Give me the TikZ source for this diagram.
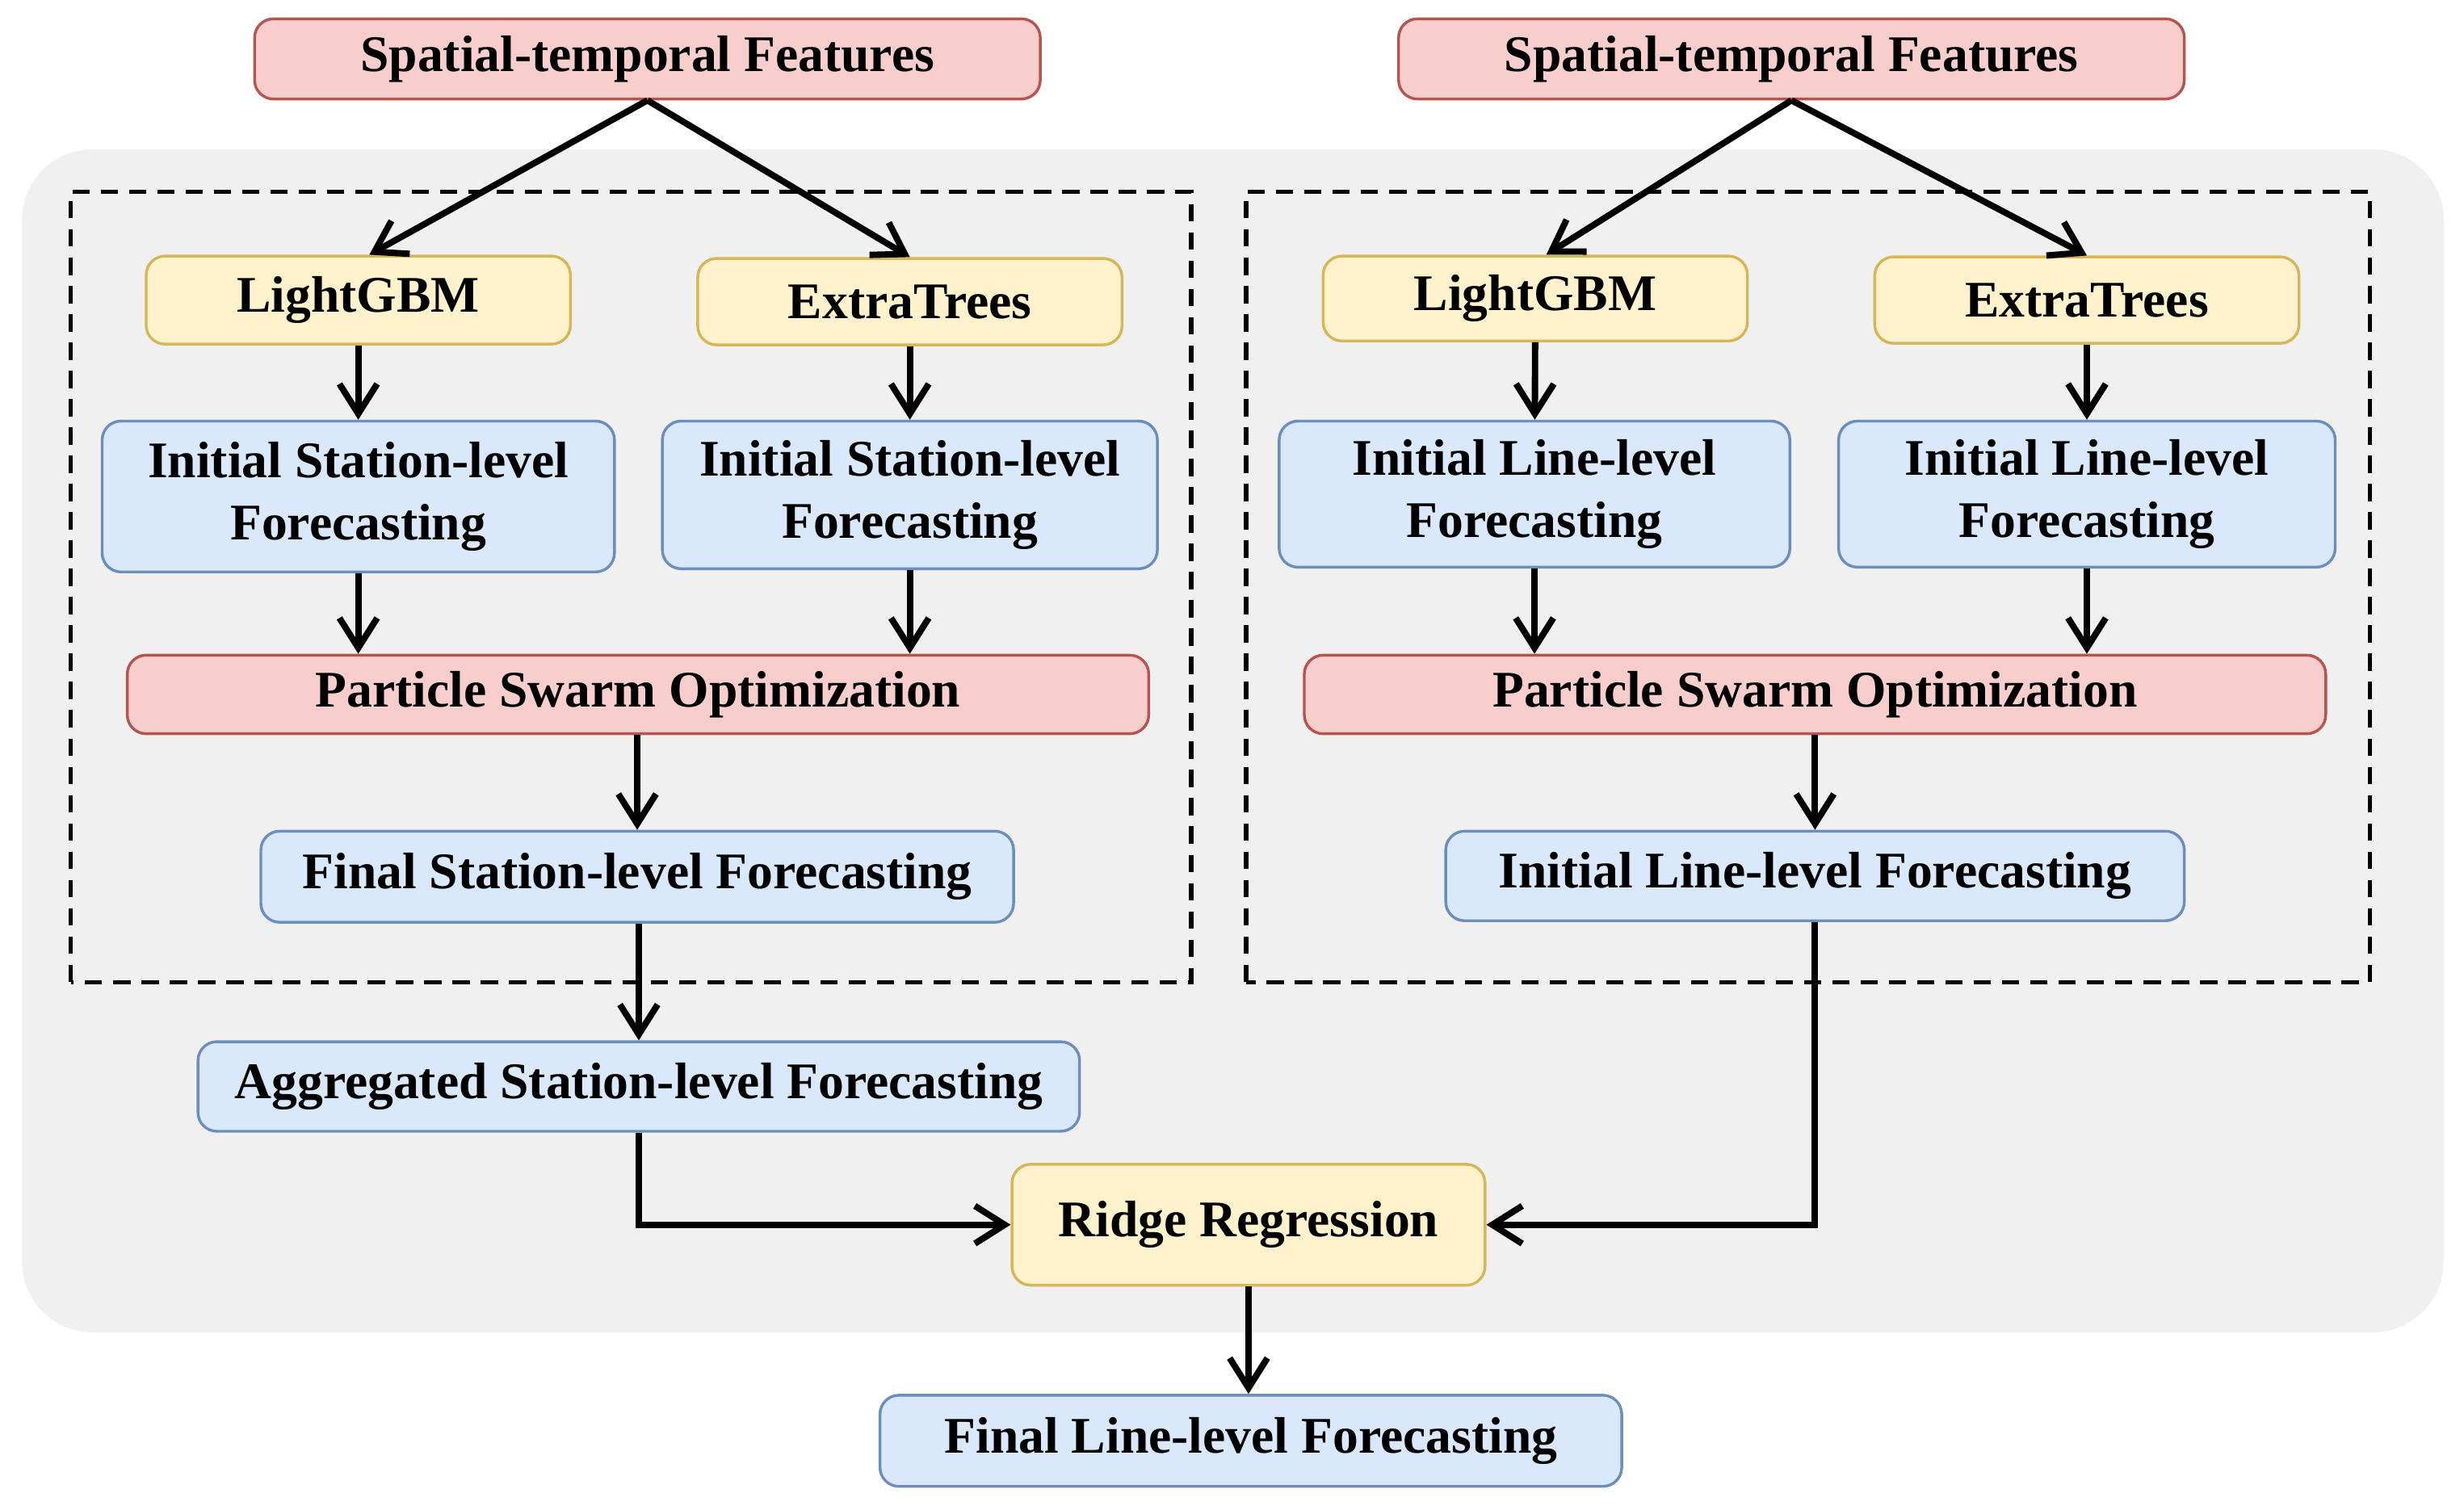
\documentclass[tikz,border=0pt]{standalone}
\usepackage{fontspec}
\setmainfont{Liberation Serif}
\usetikzlibrary{arrows.meta}

\definecolor{redfill}{HTML}{F8CECC}
\definecolor{reddraw}{HTML}{B85450}
\definecolor{yelfill}{HTML}{FFF2CC}
\definecolor{yeldraw}{HTML}{D6B656}
\definecolor{bluefill}{HTML}{DAE8FC}
\definecolor{bluedraw}{HTML}{6C8EBF}
\definecolor{bggray}{HTML}{F0F0F0}

\begin{document}
\begin{tikzpicture}[>={Straight Barb[length=3.8mm,width=4.8mm]},
    box/.style={rounded corners=0.24cm, line width=1pt, inner sep=0pt, align=center,
        font=\fontsize{18.6}{22.5}\selectfont\bfseries},
    redbox/.style={box, fill=redfill, draw=reddraw},
    yelbox/.style={box, fill=yelfill, draw=yeldraw},
    bluebox/.style={box, fill=bluefill, draw=bluedraw},
    flow/.style={->, line width=2.3pt},
    frame/.style={dashed, line width=1.5pt, dash pattern=on 0.22cm off 0.14cm}]
    \useasboundingbox (0,0) rectangle (31.36,19.22);

    % gray background and the two dashed frames
    \fill[bggray, rounded corners=0.9cm] (0.28,2.26) rectangle (31.10,17.32);
    \draw[frame] (0.90,6.72) rectangle (15.16,16.78);
    \draw[frame] (15.86,6.72) rectangle (30.16,16.78);

    % station-level branch (left)
    \node[redbox, minimum width=10cm, minimum height=1.02cm] (sf1) at (8.24,18.47) {Spatial-temporal Features};
    \node[yelbox, minimum width=5.4cm, minimum height=1.12cm] (lg1) at (4.56,15.40) {LightGBM};
    \node[yelbox, minimum width=5.4cm, minimum height=1.10cm] (et1) at (11.58,15.38) {ExtraTrees};
    \node[bluebox, minimum width=6.52cm, minimum height=1.92cm] (is1) at (4.56,12.90) {Initial Station-level\\Forecasting};
    \node[bluebox, minimum width=6.30cm, minimum height=1.88cm] (is2) at (11.58,12.92) {Initial Station-level\\Forecasting};
    \node[redbox, minimum width=13cm, minimum height=1.0cm] (pso1) at (8.12,10.38) {Particle Swarm Optimization};
    \node[bluebox, minimum width=9.58cm, minimum height=1.16cm] (fs) at (8.11,8.06) {Final Station-level Forecasting};
    \node[bluebox, minimum width=11.22cm, minimum height=1.14cm] (agg) at (8.13,5.39) {Aggregated Station-level Forecasting};

    % line-level branch (right)
    \node[redbox, minimum width=10cm, minimum height=1.02cm] (sf2) at (22.80,18.47) {Spatial-temporal Features};
    \node[yelbox, minimum width=5.4cm, minimum height=1.08cm] (lg2) at (19.54,15.42) {LightGBM};
    \node[yelbox, minimum width=5.4cm, minimum height=1.10cm] (et2) at (26.56,15.40) {ExtraTrees};
    \node[bluebox, minimum width=6.5cm, minimum height=1.86cm] (il1) at (19.53,12.93) {Initial Line-level\\Forecasting};
    \node[bluebox, minimum width=6.32cm, minimum height=1.86cm] (il2) at (26.56,12.93) {Initial Line-level\\Forecasting};
    \node[redbox, minimum width=13cm, minimum height=1.0cm] (pso2) at (23.10,10.38) {Particle Swarm Optimization};
    \node[bluebox, minimum width=9.4cm, minimum height=1.14cm] (ilf) at (23.10,8.07) {Initial Line-level Forecasting};

    % combination
    \node[yelbox, minimum width=6.02cm, minimum height=1.54cm] (rr) at (15.89,3.63) {Ridge Regression};
    \node[bluebox, minimum width=9.44cm, minimum height=1.16cm] (final) at (15.92,0.88) {Final Line-level Forecasting};

    % arrows, left
    \draw[flow] (sf1.south) -- ([xshift=0.14cm]lg1.north);
    \draw[flow] (sf1.south) -- (et1.north);
    \draw[flow] (lg1) -- (is1);
    \draw[flow] (et1) -- (is2);
    \draw[flow] (is1.south) -- (is1.south |- pso1.north);
    \draw[flow] (is2.south) -- (is2.south |- pso1.north);
    \draw[flow] (pso1.south -| fs.north) -- (fs.north);
    \draw[flow] (fs.south -| agg.north) -- (agg.north);
    \draw[flow] (agg.south) |- (rr.west);

    % arrows, right
    \draw[flow] (sf2.south) -- ([xshift=0.14cm]lg2.north);
    \draw[flow] (sf2.south) -- (et2.north);
    \draw[flow] (lg2) -- (il1);
    \draw[flow] (et2) -- (il2);
    \draw[flow] (il1.south) -- (il1.south |- pso2.north);
    \draw[flow] (il2.south) -- (il2.south |- pso2.north);
    \draw[flow] (pso2.south -| ilf.north) -- (ilf.north);
    \draw[flow] (ilf.south) |- (rr.east);

    \draw[flow] (rr.south) -- (rr.south |- final.north);
\end{tikzpicture}
\end{document}
